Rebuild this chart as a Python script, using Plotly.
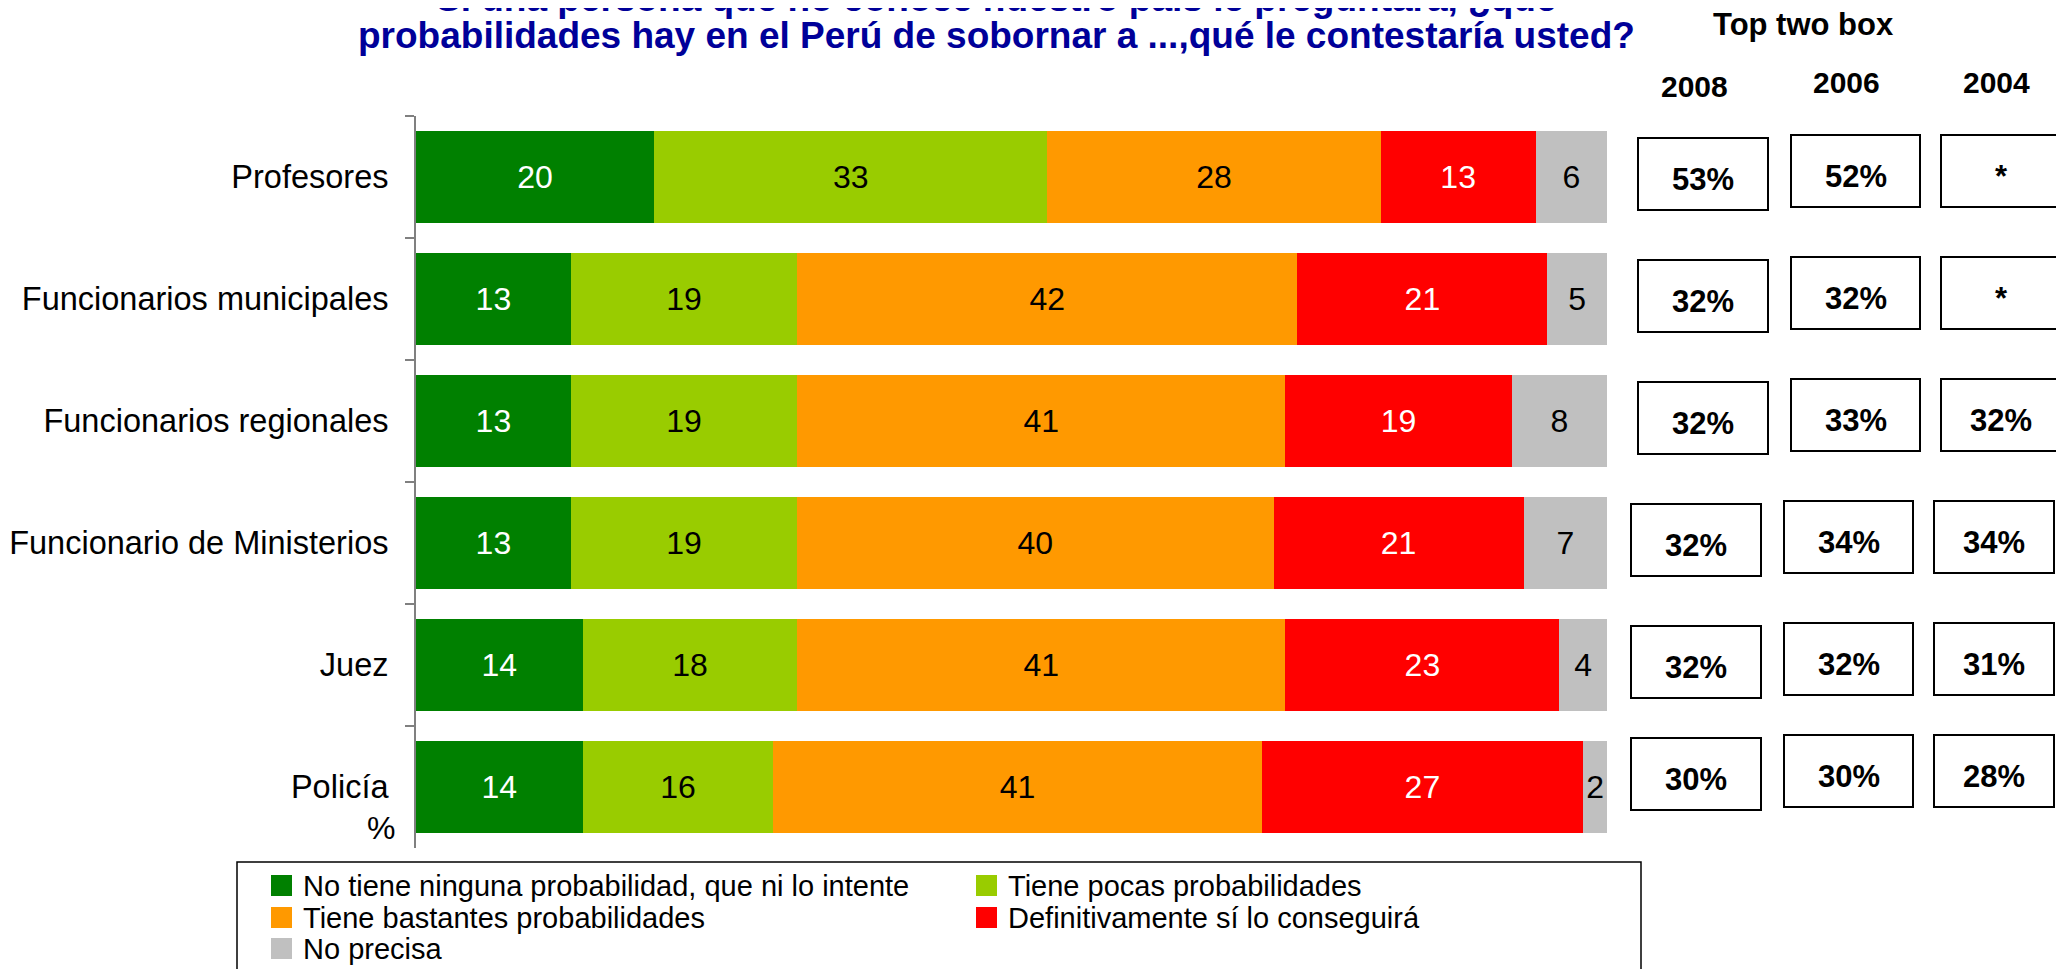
import plotly.graph_objects as go

# ---------------- data ----------------
categories = ["Profesores", "Funcionarios municipales", "Funcionarios regionales",
              "Funcionario de Ministerios", "Juez", "Policía"]
ninguna = [20, 13, 13, 13, 14, 14]
pocas = [33, 19, 19, 19, 18, 16]
bastantes = [28, 42, 41, 40, 41, 41]
definitivamente = [13, 21, 19, 21, 23, 27]
no_precisa = [6, 5, 8, 7, 4, 2]

series_names = ["No tiene ninguna probabilidad, que ni lo intente",
                "Tiene pocas probabilidades",
                "Tiene bastantes probabilidades",
                "Definitivamente sí lo conseguirá",
                "No precisa"]

years = ["2008", "2006", "2004"]
top2_2008 = ["53%", "32%", "32%", "32%", "32%", "30%"]
top2_2006 = ["52%", "32%", "33%", "34%", "32%", "30%"]
top2_2004 = ["*", "*", "32%", "34%", "31%", "28%"]

title_lines = ["Si una persona que no conoce nuestro país le preguntara, ¿qué",
               "probabilidades hay en el Perú de sobornar a ...,qué le contestaría usted?"]
top_two_label = "Top two box"
unit_label = "%"

# ---------------- style ----------------
FONT = "Liberation Sans, Arial, sans-serif"
colors = ["#008000", "#99CC00", "#FF9900", "#FF0000", "#C0C0C0"]
text_colors = ["white", "black", "black", "white", "black"]

OFF = 8                      # default page margin around the plot div
W, H = 2064 - OFF, 969 - OFF
PW, PH = 1191, 732
L, T = 416 - OFF, 116 - OFF
R = W - L - PW
B = H - T - PH


def px_x(x):
    """page pixel x -> paper x"""
    return (x - OFF - L) / PW


def px_y(y):
    """page pixel y -> paper y"""
    return (T + PH - (y - OFF)) / PH


series = [ninguna, pocas, bastantes, definitivamente, no_precisa]

fig = go.Figure()
for name, vals, col, tcol in zip(series_names, series, colors, text_colors):
    fig.add_trace(go.Bar(
        y=categories, x=vals, name=name, orientation="h",
        marker=dict(color=col, line=dict(width=0)),
        text=[str(v) for v in vals], textposition="inside",
        insidetextanchor="middle", textangle=0, constraintext="none",
        textfont=dict(family=FONT, size=32, color=tcol),
        showlegend=False, hoverinfo="x+y+name",
    ))

annotations = []
shapes = []

# title: first line is mostly cut off at the top edge, as in the reference
title_y = [-1, 35]
for line, ty in zip(title_lines, title_y):
    annotations.append(dict(
        text=line, xref="paper", yref="paper",
        x=px_x(996), y=px_y(ty), xanchor="center", yanchor="middle",
        showarrow=False, align="center",
        font=dict(family=FONT, size=37, color="#000099", weight="bold"),
    ))

# % label under the category axis
annotations.append(dict(
    text=unit_label, xref="paper", yref="paper", x=px_x(397), y=px_y(828),
    xanchor="right", yanchor="middle", showarrow=False,
    font=dict(family=FONT, size=32, color="black"),
))

# Top two box header
annotations.append(dict(
    text=top_two_label, xref="paper", yref="paper", x=px_x(1803), y=px_y(25),
    xanchor="center", yanchor="middle", showarrow=False,
    font=dict(family=FONT, size=31, color="black", weight="bold"),
))

year_pos = [(1694, 86), (1846, 83), (1996, 82)]
for yr, (xp, yp) in zip(years, year_pos):
    annotations.append(dict(
        text=yr, xref="paper", yref="paper", x=px_x(xp), y=px_y(yp),
        xanchor="center", yanchor="middle", showarrow=False,
        font=dict(family=FONT, size=30, color="black", weight="bold"),
    ))

# boxes with top-two values (offsets in px from the plot's right edge / bar centre)
top2 = [top2_2008, top2_2006, top2_2004]
box_x = [(31, 161), (184, 313), (334, 454)]
box_dy_year = [3, 6, 6]
row_dy = [0, 0, 0, 0, 0, 10]
row_dx = [0, 0, 0, -7, -7, -7]
for j, vals in enumerate(top2):
    for i, cat in enumerate(categories):
        x0, x1 = box_x[j]
        dx = row_dx[i]
        dy = box_dy_year[j] + row_dy[i]
        shapes.append(dict(
            type="rect", xref="paper", xsizemode="pixel", xanchor=1,
            x0=x0 + dx, x1=min(x1 + dx, 454),
            yref="y", ysizemode="pixel", yanchor=cat,
            y0=dy - 36, y1=dy + 36,
            line=dict(color="black", width=2), fillcolor="white", layer="above",
        ))
        annotations.append(dict(
            text=vals[i], xref="paper", yref="y", x=1, y=cat,
            xshift=(x0 + x1) / 2 + dx, yshift=dy - 5,
            xanchor="center", yanchor="middle", showarrow=False,
            font=dict(family=FONT, size=31, color="black", weight="bold"),
        ))

# legend (drawn as box + swatches + labels)
shapes.append(dict(type="rect", xref="paper", yref="paper",
                   x0=px_x(237), x1=px_x(1641), y0=px_y(862), y1=px_y(985),
                   line=dict(color="black", width=1.5), fillcolor="rgba(0,0,0,0)"))
col_sw = [271, 976]
col_tx = [301, 1006]
row_cy = [885.5, 917.5, 948.5]
for k, (name, col) in enumerate(zip(series_names, colors)):
    r, c = divmod(k, 2)
    cy = row_cy[r]
    shapes.append(dict(type="rect", xref="paper", yref="paper",
                       x0=px_x(col_sw[c]), x1=px_x(col_sw[c] + 21),
                       y0=px_y(cy - 10.5), y1=px_y(cy + 10.5),
                       line=dict(width=0), fillcolor=col))
    annotations.append(dict(
        text=name, xref="paper", yref="paper", x=px_x(col_tx[c]), y=px_y(cy),
        xanchor="left", yanchor="middle", showarrow=False,
        font=dict(family=FONT, size=29, color="black"),
    ))

fig.update_layout(
    width=W, height=H, barmode="stack", bargap=0.24,
    margin=dict(l=L, r=R, t=T, b=B, autoexpand=False),
    paper_bgcolor="white", plot_bgcolor="white",
    font=dict(family=FONT, color="black"),
    showlegend=False,
    xaxis=dict(range=[0, 100], visible=False, fixedrange=True),
    yaxis=dict(
        autorange="reversed", type="category", tickson="boundaries",
        ticks="outside", ticklen=9, tickwidth=2, tickcolor="#808080",
        showline=True, linecolor="#808080", linewidth=2,
        showgrid=False, zeroline=False, ticklabelstandoff=19,
        tickfont=dict(family=FONT, size=32.5, color="black"),
    ),
    annotations=annotations, shapes=shapes,
)

fig.write_html("out.html")
